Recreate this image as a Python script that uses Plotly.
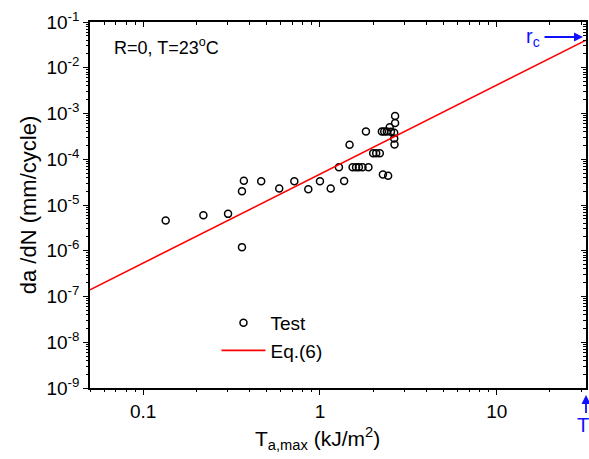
import plotly.graph_objects as go

# Test data (T_a,max in kJ/m^2, da/dN in mm/cycle)
test_x = [0.134, 0.219, 0.302, 0.362, 0.362, 0.371, 0.465, 0.588, 0.716, 0.859,
          1.00, 1.15, 1.28, 1.37, 1.47, 1.53, 1.60, 1.66, 1.74, 1.88,
          1.82, 2.00, 2.08, 2.18, 2.27, 2.43, 2.24, 2.31, 2.39, 2.48,
          2.66, 2.66, 2.63, 2.63, 2.64, 2.52]
test_y = [4.6e-6, 6.0e-6, 6.4e-6, 1.2e-6, 2.0e-5, 3.4e-5, 3.3e-5, 2.3e-5, 3.3e-5, 2.2e-5,
          3.3e-5, 2.3e-5, 6.7e-5, 3.35e-5, 2.07e-4, 6.7e-5, 6.7e-5, 6.7e-5, 6.7e-5, 6.7e-5,
          4.06e-4, 1.36e-4, 1.36e-4, 1.36e-4, 4.65e-5, 4.35e-5, 4.06e-4, 4.06e-4, 4.06e-4, 5.0e-4,
          8.8e-4, 6.2e-4, 3.8e-4, 2.85e-4, 2.1e-4, 4.0e-4]

# Eq.(6) line end points
eq_x = [0.05, 32.0]
eq_y = [1.4e-7, 0.04]

y_tickvals = [1e-9, 1e-8, 1e-7, 1e-6, 1e-5, 1e-4, 1e-3, 1e-2, 1e-1]
y_ticktext = ["10<sup>-9</sup>", "10<sup>-8</sup>", "10<sup>-7</sup>", "10<sup>-6</sup>",
              "10<sup>-5</sup>", "10<sup>-4</sup>", "10<sup>-3</sup>", "10<sup>-2</sup>",
              "10<sup>-1</sup>"]
x_tickvals = [0.1, 1, 10]
x_ticktext = ["0.1", "1", "10"]

# minor tick positions (2..9 within each decade)
x_minor = [m * d for d in [0.01, 0.1, 1, 10] for m in range(2, 10) if 0.05 <= m * d <= 32]
y_minor = [m * 10.0 ** e for e in range(-9, -1) for m in range(2, 10)]

FONT = "Liberation Sans, Arial, sans-serif"
XR = [-1.30103, 1.505]
YR = [-9, -1]

fig = go.Figure()
fig.add_trace(go.Scatter(x=test_x, y=test_y, mode="markers", name="Test",
                         marker=dict(symbol="circle-open", size=7, color="black",
                                     line=dict(width=1.5, color="black"))))
fig.add_trace(go.Scatter(x=eq_x, y=eq_y, mode="lines", name="Eq.(6)",
                         line=dict(color="#ff0000", width=1.6)))
# invisible traces holding the tick-only axes
for xa, ya in [("x2", "y2"), ("x3", "y3"), ("x4", "y4")]:
    fig.add_trace(go.Scatter(x=[1], y=[1e-5], xaxis=xa, yaxis=ya, mode="markers",
                             marker=dict(opacity=0), showlegend=False, hoverinfo="skip"))

base = dict(showgrid=False, zeroline=False, linecolor="black", linewidth=1.5,
            tickcolor="black", tickwidth=1.2)

def tick_axis(kind, side, vals, direction, length, width):
    rng = XR if kind == "x" else YR
    d = dict(type="log", range=rng, side=side, showticklabels=False, showline=False,
             tickmode="array", tickvals=vals, ticks=direction, ticklen=length,
             tickwidth=width, tickcolor="black", showgrid=False, zeroline=False,
             overlaying=kind)
    return d

fig.update_layout(
    width=589, height=459,
    margin=dict(l=90, r=1, t=22, b=71),
    paper_bgcolor="white", plot_bgcolor="white",
    font=dict(family=FONT, size=17, color="black"),
    xaxis=dict(type="log", range=XR, tickmode="array", tickvals=x_tickvals, ticktext=x_ticktext,
               ticks="outside", ticklen=5, showline=True, mirror=True,
               tickfont=dict(size=19), **base),
    yaxis=dict(type="log", range=YR, tickmode="array", tickvals=y_tickvals, ticktext=y_ticktext,
               ticks="outside", ticklen=5, showline=True, mirror=True,
               title=dict(text="da /dN (mm/cycle)", font=dict(size=22), standoff=4),
               tickfont=dict(size=19), **base),
    # top/right major ticks pointing inward
    xaxis2=tick_axis("x", "top", x_tickvals, "inside", 5, 1.2),
    yaxis2=tick_axis("y", "right", y_tickvals, "inside", 5, 1.2),
    # bottom/left minor ticks outward
    xaxis3=tick_axis("x", "bottom", x_minor, "outside", 3, 1),
    yaxis3=tick_axis("y", "left", y_minor, "outside", 3, 1),
    # top/right minor ticks inward
    xaxis4=tick_axis("x", "top", x_minor, "inside", 3, 1),
    yaxis4=tick_axis("y", "right", y_minor, "inside", 3, 1),
    legend=dict(x=0.255, y=0.23, xanchor="left", yanchor="top", bgcolor="rgba(0,0,0,0)",
                font=dict(size=19), tracegroupgap=0, itemwidth=44),
    showlegend=True,
)

# x-axis title
fig.add_annotation(text="T<sub>a,max</sub> (kJ/m<sup>2</sup>)", xref="paper", yref="paper",
                   x=0.458, y=-0.137, xanchor="center", yanchor="middle",
                   showarrow=False, font=dict(size=21))
fig.add_annotation(text="R=0, T=23<sup>o</sup>C", xref="paper", yref="paper",
                   x=0.044, y=0.932, xanchor="left", yanchor="middle",
                   showarrow=False, font=dict(size=18))
# r_c arrow
fig.add_annotation(text="", xref="paper", yref="paper", x=0.994, y=0.959,
                   ax=-40, ay=0, showarrow=True, arrowhead=2, arrowsize=1,
                   arrowwidth=1.8, arrowcolor="#1010ff")
fig.add_annotation(text="r<sub>c</sub>", xref="paper", yref="paper", x=0.912, y=0.957,
                   xanchor="right", yanchor="middle", showarrow=False,
                   font=dict(size=20, color="#1010ff"))
# T_c arrow
fig.add_annotation(text="T<sub>c</sub>", xref="paper", yref="paper", x=1.0, y=-0.019,
                   ax=0, ay=32, showarrow=True, arrowhead=2, arrowsize=1,
                   arrowwidth=1.8, arrowcolor="#1010ff", font=dict(size=20, color="#1010ff"))

fig.write_html("out.html")
